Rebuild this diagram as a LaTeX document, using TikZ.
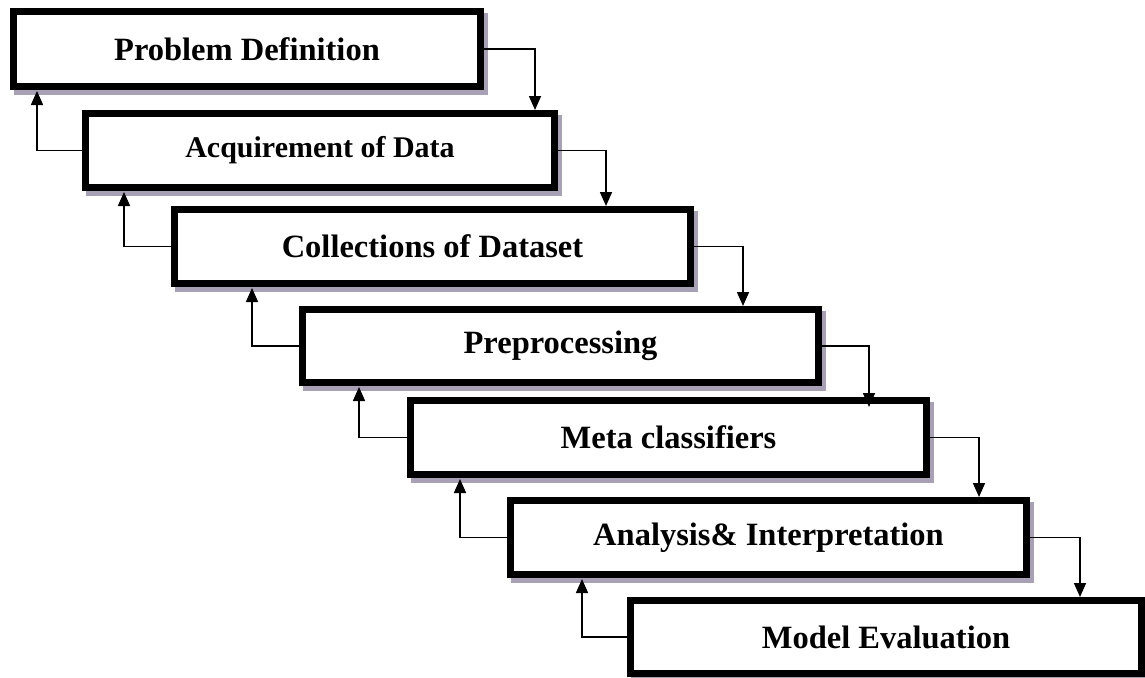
\documentclass[tikz,border=0pt]{standalone}
\usepackage{fontspec}
\setmainfont{Liberation Serif}
\usetikzlibrary{arrows.meta}
\definecolor{shadowc}{RGB}{168,160,180}
\tikzset{
  stepbox/.style={draw=black, fill=white, line width=7pt, inner sep=0pt, rectangle,
    font=\bfseries\fontsize{32.5}{38}\selectfont},
  arr/.style={line width=1.6pt, -{Triangle[length=14pt,width=12pt]}},
}
\newcommand{\boxshadow}[1]{\fill[shadowc] ([xshift=4pt,yshift=-5pt]#1.north west) rectangle ([xshift=4pt,yshift=-5pt]#1.south east);}
\pgfdeclarelayer{bg}
\pgfsetlayers{bg,main}
\begin{document}
\begin{tikzpicture}[x=1pt,y=-1pt]
\useasboundingbox (0,0) rectangle (1145,677);
% boxes: outer (x1,y1)-(x2,y2); node min size = outer - 7
\node[stepbox, minimum width=467pt, minimum height=75pt] (b1) at (247,49) {Problem Definition};
\node[stepbox, minimum width=469pt, minimum height=74pt, font=\bfseries\fontsize{30}{36}\selectfont] (b2) at (320,150.5) {Acquirement of Data};
\node[stepbox, minimum width=516pt, minimum height=74pt] (b3) at (432.5,246.5) {Collections of Dataset};
\node[stepbox, minimum width=516pt, minimum height=73pt] (b4) at (560.5,346) {Preprocessing};
\node[stepbox, minimum width=516pt, minimum height=74pt] (b5) at (668.5,437.5) {Meta classifiers};
\node[stepbox, minimum width=516pt, minimum height=74pt] (b6) at (768.5,537.5) {Analysis\& Interpretation};
\node[stepbox, minimum width=511pt, minimum height=73pt] (b7) at (886,637) {Model Evaluation};
% shadows behind
\begin{pgfonlayer}{bg}
\boxshadow{b1}\boxshadow{b2}\boxshadow{b3}\boxshadow{b4}\boxshadow{b5}\boxshadow{b6}\boxshadow{b7}
\end{pgfonlayer}
% down arrows
\draw[arr] (b1.east) -| ([xshift=453pt]b2.north west);
\draw[arr] (b2.east) -| ([xshift=435pt]b3.north west);
\draw[arr] (b3.east) -| ([xshift=444pt]b4.north west);
\draw[arr] (b4.east) -| ([xshift=462pt,yshift=-10pt]b5.north west);
\draw[arr] (b5.east) -| ([xshift=472pt]b6.north west);
\draw[arr] (b6.east) -| ([xshift=453pt]b7.north west);
% up arrows
\draw[arr] (b2.west) -| ([xshift=27pt,yshift=-1pt]b1.south west);
\draw[arr] (b3.west) -| ([xshift=42pt,yshift=-1pt]b2.south west);
\draw[arr] (b4.west) -| ([xshift=81pt,yshift=-1pt]b3.south west);
\draw[arr] (b5.west) -| ([xshift=60pt,yshift=-1pt]b4.south west);
\draw[arr] (b6.west) -| ([xshift=53pt,yshift=-1pt]b5.south west);
\draw[arr] (b7.west) -| ([xshift=75pt,yshift=-1pt]b6.south west);
\end{tikzpicture}
\end{document}
